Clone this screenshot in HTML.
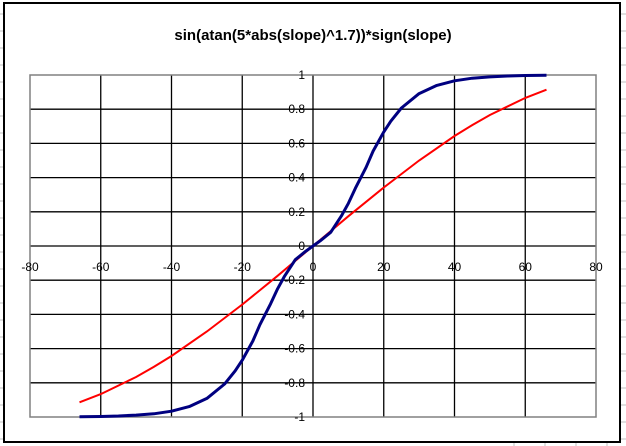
<!DOCTYPE html>
<html><head><meta charset="utf-8"><style>
html,body{margin:0;padding:0;background:#fff;}
svg{display:block;font-family:"Liberation Sans",Arial,sans-serif;}
</style></head><body>
<svg id="chart" width="626" height="446" viewBox="0 0 626 446">
<g id="sheet"></g>
<rect x="4" y="3" width="616" height="439" fill="#fff" stroke="#000" stroke-width="2"/>
<text x="313" y="40" text-anchor="middle" font-size="15" font-weight="bold">sin(atan(5*abs(slope)^1.7))*sign(slope)</text>
<g id="grid"></g>
<rect x="30" y="75" width="566" height="342" fill="none" stroke="#808080" stroke-width="1.5"/>
<g id="labels"></g>
<g id="series"></g>
</svg>
<script>
const xTicks=[-80,-60,-40,-20,0,20,40,60,80];
const yTicks=[-1,-0.8,-0.6,-0.4,-0.2,0,0.2,0.4,0.6,0.8,1];
const blueX=[0,2,5,8,10,12,15,17,20,22,25,30,35,40,45,50,55,60,66];
const blueY=[0,0.03,0.08,0.175,0.25,0.338,0.46,0.555,0.667,0.73,0.807,0.891,0.939,0.966,0.981,0.989,0.994,0.997,0.998];
const redX=[0,5,10,20,30,40,45,50,60,66];
const redY=[0,0.087,0.174,0.342,0.5,0.643,0.707,0.766,0.866,0.914];
const NS="http://www.w3.org/2000/svg";
const xs=v=>30+(v+80)*566/160;
const ys=v=>246-v*171;
function mk(tag,attrs,parent){const e=document.createElementNS(NS,tag);for(const k in attrs)e.setAttribute(k,attrs[k]);parent.appendChild(e);return e;}
const sheet=document.getElementById('sheet');
for(let y=14;y<446;y+=17){
 const l=mk('line',{x1:0,x2:4,y1:y,y2:y,stroke:'#c0c0c0'},sheet);
 
 
 const r=mk('line',{x1:621,x2:626,y1:y,y2:y,stroke:'#c0c0c0'},sheet);
 
 
}
for(let x=514;x<626;x+=31){
 const l=mk('line',{x1:x,x2:x,y1:443,y2:446,stroke:'#c0c0c0'},sheet);
 
 
}
const grid=document.getElementById('grid'),labels=document.getElementById('labels');
xTicks.forEach(t=>{
 const X=xs(t);
 if(t>-80&&t<80){const l=mk('line',{x1:X,x2:X,y1:75,y2:417,stroke:'#000','stroke-width':1.3},grid);
 
 }
 const tx=mk('text',{x:X,y:271,'text-anchor':'middle','font-size':12},labels);
 tx.textContent=t;
 
 
});
yTicks.forEach(t=>{
 const Y=ys(t);
 if(t>-1&&t<1){const l=mk('line',{x1:30,x2:596,y1:Y,y2:Y,stroke:'#000','stroke-width':1.3},grid);
 
 }
 const tx=mk('text',{x:305,y:Y+4,'text-anchor':'end','font-size':12},labels);
 tx.textContent=Math.round(t*10)/10;
 
 
});
const series=document.getElementById('series');
function sym(X,Y){const px=[],py=[];for(let i=X.length-1;i>0;i--){px.push(-X[i]);py.push(-Y[i]);}for(let i=0;i<X.length;i++){px.push(X[i]);py.push(Y[i]);}return px.map((x,i)=>xs(x).toFixed(1)+','+ys(py[i]).toFixed(1)).join(' ');}
const red=mk('polyline',{points:sym(redX,redY),fill:'none',stroke:'#ff0000','stroke-width':2},series);


const blue=mk('polyline',{points:sym(blueX,blueY),fill:'none',stroke:'#000080','stroke-width':3,'stroke-linejoin':'round'},series);


</script>
</body></html>
